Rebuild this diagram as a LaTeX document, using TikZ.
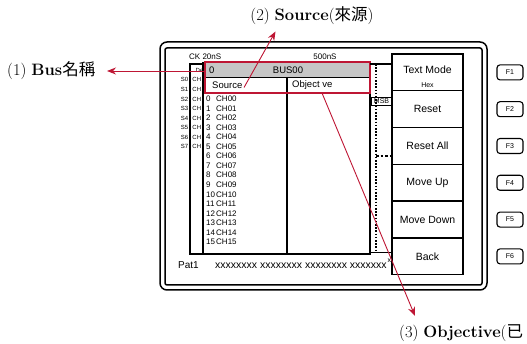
\documentclass[tikz,border=0pt]{standalone}
\usepackage{fontspec}
\newfontfamily\uisans{Liberation Sans}
\newfontfamily\cjk{Noto Sans CJK TC}
\usetikzlibrary{arrows.meta}
\definecolor{callred}{RGB}{190,22,52}
\definecolor{bargrey}{RGB}{198,198,198}

\begin{document}
\begin{tikzpicture}[x=1pt,y=-1pt,
  framebox/.style={draw=black,line width=1.5pt},
  cell/.style={draw=black,line width=1.1pt},
  ui/.style={inner sep=0pt,font=\uisans\fontsize{#1}{#1}\selectfont},
  ui/.default=8,
  btn/.style={draw=black,line width=1.4pt,fill=white,minimum width=71pt,
    minimum height=36.8pt,inner sep=0pt,font=\uisans\fontsize{10.5}{11}\selectfont},
  fkey/.style={draw=black,line width=1.1pt,rounded corners=3pt,minimum width=26pt,
    minimum height=15pt,inner sep=0pt,font=\uisans\fontsize{7}{8}\selectfont},
  callout/.style={draw=callred,line width=0.9pt,-{Stealth[length=9pt,width=7pt]}},
  calltext/.style={inner sep=0pt,font=\fontsize{16.5}{18}\selectfont}]
\useasboundingbox (0,0) rectangle (527,344);

% device housing
\draw[framebox,rounded corners=7pt] (160,42) rectangle (487,290);
\draw[framebox,rounded corners=2pt] (165,48) rectangle (482,285);

% time scale
\node[ui=8,anchor=west] (ck) at (189,57) {CK 20nS};
\node[ui=8] (t500) at (325,57) {500nS};

% signal columns
\draw[cell] (190,64) rectangle (203,254);
\draw[cell] (203,63) rectangle (287,254);
\draw[cell] (287,63) rectangle (370,254);
\node[ui=6,anchor=west] (de) at (195.5,70.5) {De};
\foreach \i in {0,...,7}{
  \node[ui=6,anchor=east] (s\i) at (188.5,79.9+9.53*\i) {S\i};
  \node[ui=6] (c\i) at (196.8,79.9+9.53*\i) {CH};
}
\foreach \i in {0,...,15}{
  \pgfmathtruncatemacro{\n}{\i}
  \node[ui=8,anchor=west] (num\i) at (206,99+9.53*\i) {\n};
  \node[ui=8,anchor=west] (chn\i) at (216,99+9.53*\i) {CH\ifnum\i<10 0\fi\i};
}

% bus header inside the selection
\node[fill=bargrey,draw=none,minimum width=165pt,minimum height=15pt,inner sep=0pt]
  (busname) at (287.5,69.5) {};
\draw[cell] (busname.south west) -- (busname.south east);
\node[ui=9.5,anchor=west] (busidx) at (209,70) {0};
\node[ui=9.5] (busid) at (288,70) {BUS00};
\node[ui=9.5,anchor=west] (srcname) at (212,85) {Source};
\node[ui=9.5,anchor=west] (objname) at (292,85) {Object ve};
\node[draw=callred,line width=2.8pt,minimum width=165pt,minimum height=31pt,inner sep=0pt]
  (sel) at (287.5,77.5) {};

% MSB strip
\draw[cell] (370,64) -- (392,64);
\draw[cell] (370,252.5) -- (392,252.5);
\draw[black,line width=1.1pt,dash pattern=on 1.6pt off 1.6pt] (376,64) -- (376,252);
\draw[black,line width=1.1pt,dash pattern=on 2.5pt off 2pt] (376,156) -- (392,156);
\node[draw=black,line width=0.7pt,minimum width=21pt,minimum height=7.5pt,inner sep=0pt,
  font=\uisans\fontsize{7}{7}\selectfont] (msb) at (381.5,101.5) {MSB};

% pattern line
\node[ui=10,anchor=west] (pat) at (178,265) {Pat1};
\node[ui=10.5,anchor=west] (patval) at (215,265.5) {xxxxxxxx xxxxxxxx xxxxxxxx xxxxxxx};
\node[ui=7,anchor=west] (patsup) at (387.5,260.5) {x};

% soft keys
\node[btn] (b1) at (427.5,72.4) {};
\node[ui=10.5] (b1t) at (427.5,70) {Text Mode};
\node[ui=7] (b1h) at (427.5,85) {Hex};
\node[btn] (b2) at (427.5,109.2) {Reset};
\node[btn] (b3) at (427.5,146) {Reset All};
\node[btn] (b4) at (427.5,182.8) {Move Up};
\node[btn] (b5) at (427.5,219.6) {Move Down};
\node[btn] (b6) at (427.5,256.4) {Back};

\foreach \k in {1,...,6}{
  \node[fkey] (f\k) at (510,72.4+36.8*\k-36.8) {F\k};
}

% callouts
\node[calltext,anchor=west] (lbl1) at (7,71) {(1) \textbf{Bus}{\cjk 名稱}};
\node[calltext] (lbl2) at (312,16) {(2) \textbf{Source}({\cjk 來源})};
\node[calltext,anchor=west] (lbl3) at (399,333) {(3) \textbf{Objective}({\cjk 已}};

\coordinate (t1) at (107,71);
\coordinate (t2) at (275.5,31.5);
\coordinate (t3) at (415,316);
\coordinate (s2) at (244,87.5);
\coordinate (s3) at (322,93);
\draw[callout] (sel.west |- busname.west) ++(0,1.5) -- (t1);
\draw[callout] (s2) -- (t2);
\draw[callout] (s3) -- (t3);
\end{tikzpicture}
\end{document}
